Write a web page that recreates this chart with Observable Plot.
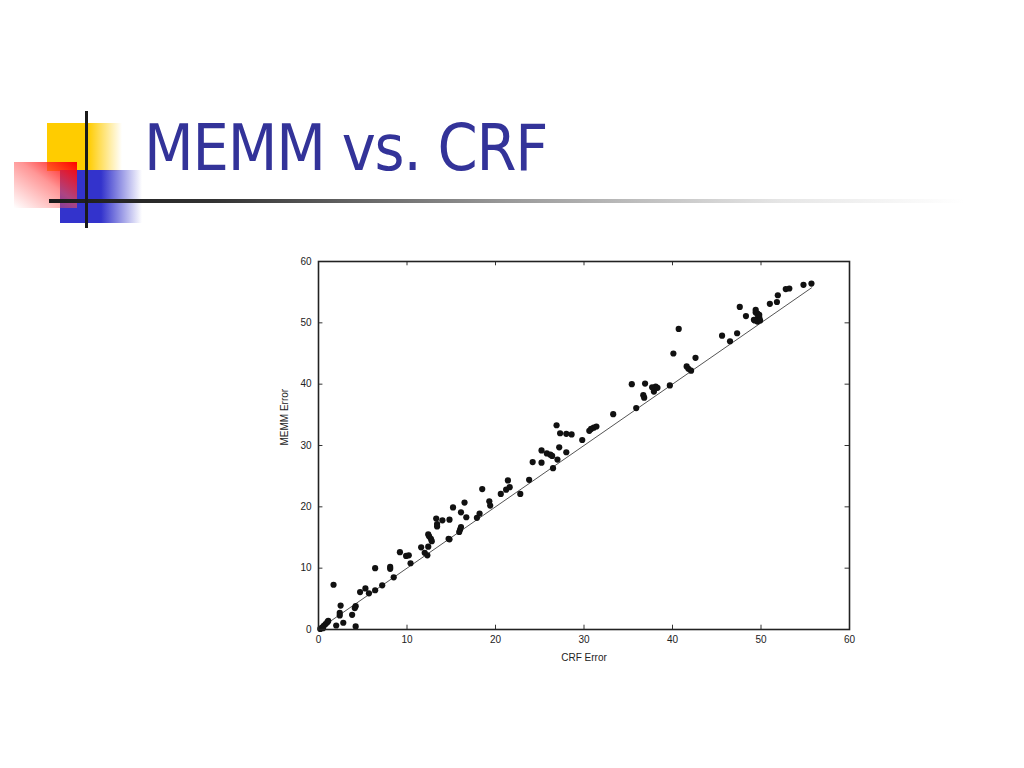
<!DOCTYPE html>
<html>
<head>
<meta charset="utf-8">
<script src="https://cdn.jsdelivr.net/npm/d3@7"></script>
<script src="https://cdn.jsdelivr.net/npm/@observablehq/plot@0.6"></script>
<style>
  html, body { margin: 0; padding: 0; background: #fff; width: 1024px; height: 768px; overflow: hidden; }
  .abs { position: absolute; }
  #title { left: 144px; top: 116px; font-family: "DejaVu Sans", sans-serif; font-stretch: condensed; font-size: 64px; letter-spacing: -1.2px; color: #333399; white-space: nowrap; line-height: 1; }
  #chart { left: 260px; top: 240px; }
</style>
</head>
<body>
<div class="abs" style="left:47px;top:123px;width:75px;height:48px;background:linear-gradient(to right,#ffcc00 0%,#ffcc00 55%,rgba(255,204,0,0) 100%);"></div>
<div class="abs" style="left:60px;top:170px;width:82px;height:53px;background:linear-gradient(to right,#3333cc 0%,#3333cc 50%,rgba(51,51,204,0) 100%);"></div>
<div class="abs" style="left:14px;top:162px;width:63px;height:46px;background:linear-gradient(to bottom left,#ff0000 0%,rgba(255,80,80,0.6) 45%,rgba(255,255,255,0) 100%);"></div>
<div class="abs" style="left:49px;top:199px;width:915px;height:4px;background:linear-gradient(to right,#1a1a1a 0%,#333 18%,#999 50%,#e6e6e6 80%,rgba(255,255,255,0) 100%);"></div>
<div class="abs" style="left:85px;top:111px;width:3px;height:117px;background:#1a1a1a;"></div>
<div id="title" class="abs">MEMM vs. CRF</div>
<div id="chart" class="abs"></div>
<script>
const crfError = [0.2,0.4,0.5,0.6,0.8,1.0,1.1,1.7,2.0,2.5,2.4,2.4,2.8,3.8,4.2,4.1,4.2,4.7,5.3,5.7,6.4,6.4,7.2,8.1,8.1,8.5,9.2,9.9,10.2,10.4,11.6,12.0,12.3,12.4,12.5,12.7,12.8,12.4,13.3,13.4,13.4,14.0,14.8,14.7,14.8,15.2,15.9,16.0,16.1,16.1,16.5,16.7,17.9,18.2,18.5,19.3,19.4,20.6,21.4,21.2,21.6,22.8,23.8,24.2,25.2,25.2,25.8,26.2,26.4,26.5,27.0,26.9,27.2,27.3,28.0,28.6,28.0,29.8,30.6,30.8,31.1,31.4,33.3,35.4,35.9,36.7,36.8,36.9,37.7,37.9,38.1,38.3,39.7,40.1,40.7,41.6,41.8,42.1,42.6,45.6,46.5,47.3,47.6,48.3,49.4,49.4,49.6,49.8,49.8,49.6,49.2,49.3,49.6,49.9,51.0,51.8,51.9,52.8,53.2,54.8,55.7];
const memmError = [0.1,0.3,0.2,0.6,0.9,1.2,1.4,7.3,0.65,3.9,2.7,2.3,1.1,2.4,3.8,3.5,0.5,6.1,6.7,5.9,10.0,6.4,7.2,10.2,9.9,8.5,12.6,12.0,12.1,10.8,13.4,12.5,12.1,15.5,15.2,14.8,14.4,13.5,18.1,17.2,16.8,17.8,17.9,14.8,14.7,19.9,15.9,16.3,19.1,16.7,20.7,18.3,18.2,18.9,22.9,20.9,20.2,22.1,24.3,22.8,23.2,22.1,24.4,27.3,27.2,29.2,28.7,28.5,28.3,26.3,27.7,33.3,29.7,32.0,31.9,31.8,28.9,30.9,32.4,32.7,32.9,33.1,35.1,40.0,36.1,38.2,37.8,40.1,39.5,38.8,39.6,39.4,39.8,45.0,49.0,42.9,42.5,42.2,44.3,47.9,47.0,48.3,52.6,51.1,52.1,51.7,51.5,51.3,50.9,50.7,50.5,50.4,50.2,50.4,53.1,53.4,54.5,55.5,55.6,56.2,56.4];
const diagX = [0, 55.7];
const diagY = [0, 55.7];
const tickValues = [0, 10, 20, 30, 40, 50, 60];
const innerTicks = [10, 20, 30, 40, 50];
const xLabel = "CRF Error";
const yLabel = "MEMM Error";

const points = crfError.map((c, i) => ({crf: c, memm: memmError[i]}));
const diag = diagX.map((x, i) => ({x, y: diagY[i]}));

const font = "'Liberation Sans', Arial, sans-serif";
const plot = Plot.plot({
  width: 620,
  height: 440,
  marginLeft: 58,
  marginRight: 31,
  marginTop: 21,
  marginBottom: 51,
  style: {fontFamily: font, fontSize: "10px", color: "#222", background: "transparent"},
  x: {domain: [0, 60]},
  y: {domain: [0, 60]},
  marks: [
    Plot.line(diag, {x: "x", y: "y", stroke: "#555", strokeWidth: 1}),
    Plot.dot(points, {x: "crf", y: "memm", r: 3.1, fill: "#111", stroke: "none"}),
    Plot.ruleX(innerTicks, {x: d => d, y1: 0, y2: 0.7, stroke: "#333", strokeWidth: 1}),
    Plot.ruleX(innerTicks, {x: d => d, y1: 60, y2: 59.3, stroke: "#333", strokeWidth: 1}),
    Plot.ruleY(innerTicks, {y: d => d, x1: 0, x2: 0.5, stroke: "#333", strokeWidth: 1}),
    Plot.ruleY(innerTicks, {y: d => d, x1: 60, x2: 59.5, stroke: "#333", strokeWidth: 1}),
    Plot.frame({stroke: "#222", strokeWidth: 1.6}),
    Plot.axisX({ticks: tickValues, tickSize: 0, tickPadding: 6, label: null, fontSize: 10}),
    Plot.axisY({ticks: tickValues, tickSize: 0, tickPadding: 7, label: null, fontSize: 10}),
    Plot.text([xLabel], {frameAnchor: "bottom", dy: 24, text: d => d, fontSize: 10, lineAnchor: "top"}),
    Plot.text([yLabel], {frameAnchor: "left", dx: -34, rotate: -90, text: d => d, fontSize: 10})
  ]
});
document.getElementById("chart").appendChild(plot);
</script>
</body>
</html>
